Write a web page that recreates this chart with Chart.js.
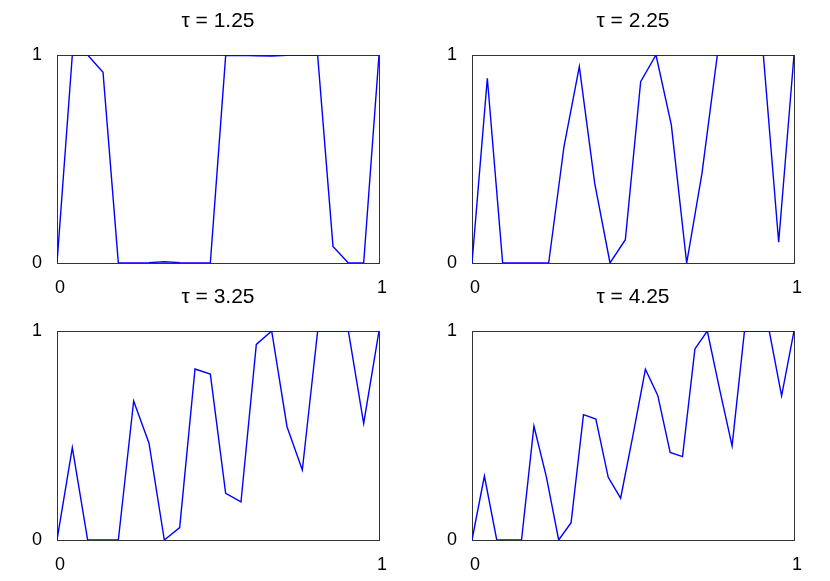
<!DOCTYPE html>
<html>
<head>
<meta charset="utf-8">
<script src="https://cdn.jsdelivr.net/npm/chart.js@4.4.1/dist/chart.umd.min.js"></script>
<style>
  html, body { margin: 0; padding: 0; background: #ffffff; }
  #wrap { position: relative; width: 830px; height: 581px; overflow: hidden; background: #ffffff; }
  canvas { position: absolute; }
</style>
</head>
<body>
<div id="wrap">
  <canvas id="c1" width="436" height="300" style="left:0px;top:0px;"></canvas>
  <canvas id="c2" width="436" height="300" style="left:415px;top:0px;"></canvas>
  <canvas id="c3" width="436" height="305" style="left:0px;top:276px;"></canvas>
  <canvas id="c4" width="436" height="305" style="left:415px;top:276px;"></canvas>
</div>
<script>
// Sample positions (regular grids on [0, 1])
const x22 = [0, 0.0476, 0.0952, 0.1429, 0.1905, 0.2381, 0.2857, 0.3333, 0.3810, 0.4286, 0.4762,
             0.5238, 0.5714, 0.6190, 0.6667, 0.7143, 0.7619, 0.8095, 0.8571, 0.9048, 0.9524, 1];
const x27 = [0, 0.0385, 0.0769, 0.1154, 0.1538, 0.1923, 0.2308, 0.2692, 0.3077, 0.3462, 0.3846,
             0.4231, 0.4615, 0.5, 0.5385, 0.5769, 0.6154, 0.6538, 0.6923, 0.7308, 0.7692,
             0.8077, 0.8462, 0.8846, 0.9231, 0.9615, 1];

// Panel titles
const titles = ['\u03C4 = 1.25', '\u03C4 = 2.25', '\u03C4 = 3.25', '\u03C4 = 4.25'];

// Series values
const y125 = [0, 1, 1, 0.917, 0, 0, 0.002, 0.006, 0.002, 0, 0,
              0.997, 0.998, 0.996, 0.995, 0.998, 0.999, 0.998, 0.08, 0, 0, 1];
const y225 = [0, 0.888, 0, 0, 0, 0, 0.56, 0.944, 0.384, 0, 0.112,
              0.872, 1, 0.664, 0, 0.432, 1, 1, 1, 1, 0.10, 1];
const y325 = [0, 0.442, 0, 0, 0, 0.665, 0.463, 0, 0.059, 0.818, 0.794,
              0.223, 0.182, 0.936, 1, 0.542, 0.335, 1, 1, 1, 0.558, 1];
const y425 = [0, 0.306, 0, 0, 0, 0.545, 0.303, 0, 0.083, 0.6, 0.579, 0.30, 0.2, 0.502,
              0.817, 0.692, 0.419, 0.399, 0.914, 1, 0.72, 0.45, 1, 1, 1, 0.69, 1];

// Axis tick values
const xTicks = [0, 1];
const yTicks = [0, 1];

const FONT = "'Liberation Sans', Arial, Helvetica, sans-serif";

function makeChart(id, title, xs, ys, canvasH, plotBottom) {
  const pts = xs.map((x, i) => ({ x: x, y: ys[i] }));
  const axisCommon = {
    type: 'linear',
    min: 0,
    max: 1,
    grid: { color: '#333333', lineWidth: 1, drawTicks: false },
    border: { display: true, color: '#333333', width: 1 },
  };
  return new Chart(document.getElementById(id), {
    type: 'line',
    data: {
      datasets: [{
        data: pts,
        borderColor: '#0000ff',
        borderWidth: 1.4,
        pointRadius: 0,
        fill: false,
        tension: 0,
        xAxisID: 'x',
        yAxisID: 'y'
      }]
    },
    options: {
      responsive: false,
      animation: false,
      devicePixelRatio: 1,
      layout: { padding: { left: 0, right: 0, top: 0, bottom: 0 } },
      plugins: {
        legend: { display: false },
        tooltip: { enabled: false },
        title: {
          display: true,
          text: title,
          color: '#000000',
          font: { family: FONT, size: 21, weight: 'normal', lineHeight: 1.2 },
          padding: { top: 8.5, bottom: 21.3 }
        }
      },
      scales: {
        x: Object.assign({}, axisCommon, {
          afterBuildTicks: (s) => { s.ticks = xTicks.map(v => ({ value: v })); },
          afterFit: (s) => { s.height = canvasH - plotBottom; },
          ticks: { color: '#000000', font: { family: FONT, size: 18 }, padding: 14, maxRotation: 0, labelOffset: 3 }
        }),
        y: Object.assign({}, axisCommon, {
          position: 'left',
          afterBuildTicks: (s) => { s.ticks = yTicks.map(v => ({ value: v })); },
          afterFit: (s) => { s.width = 57; },
          ticks: { color: '#000000', font: { family: FONT, size: 18 }, padding: 15 }
        }),
        yPad: {
          type: 'linear',
          position: 'right',
          min: 0,
          max: 1,
          display: true,
          grid: { display: false, drawTicks: false },
          border: { display: false },
          ticks: { display: false },
          afterFit: (s) => { s.width = 57; }
        }
      }
    }
  });
}

makeChart('c1', titles[0], x22, y125, 300, 263);
makeChart('c2', titles[1], x22, y225, 300, 263);
makeChart('c3', titles[2], x22, y325, 305, 264);
makeChart('c4', titles[3], x27, y425, 305, 264);
</script>
</body>
</html>
